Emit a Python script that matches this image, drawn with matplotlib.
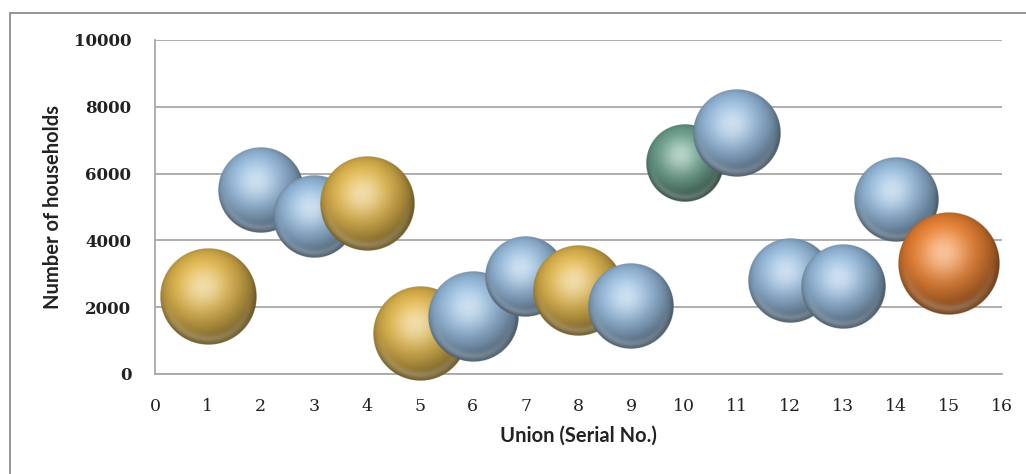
import numpy as np
import matplotlib
matplotlib.use("Agg")
import matplotlib.pyplot as plt
from matplotlib.patches import Rectangle

# Households per union, bubble size and colour group
union_no = [1, 2, 3, 4, 5, 6, 7, 8, 9, 10, 11, 12, 13, 14, 15]
households = [2300, 5500, 4700, 5100, 1200, 1700, 2900, 2500, 2050,
              6300, 7200, 2800, 2600, 5200, 3300]
bubble_size = [89, 71, 65, 85, 85, 78, 62, 78, 71, 58, 74, 68, 68, 68, 100]
group = ['gold', 'blue', 'blue', 'gold', 'gold', 'blue', 'blue', 'gold', 'blue',
         'green', 'blue', 'blue', 'blue', 'blue', 'orange']

base_colors = {
    'gold': (0.86, 0.70, 0.30),
    'blue': (0.58, 0.72, 0.85),
    'green': (0.42, 0.62, 0.54),
    'orange': (0.90, 0.50, 0.20),
}


def sphere_rgba(base, n=240):
    t = np.linspace(-1, 1, n)
    u, v = np.meshgrid(t, -t)
    r = np.sqrt(u**2 + v**2)
    z = np.sqrt(np.clip(1 - r**2, 0, 1))
    light = np.array([-0.2, 0.4, 0.9])
    light /= np.linalg.norm(light)
    diff = np.clip(u * light[0] + v * light[1] + z * light[2], 0, 1)
    half = light + np.array([0, 0, 1.0])
    half /= np.linalg.norm(half)
    spec = np.clip(u * half[0] + v * half[1] + z * half[2], 0, 1) ** 10
    col = np.array(base)[None, None, :] * (0.5 + 0.55 * diff)[..., None]
    col = np.clip(col, 0, 1)
    col += (1 - col) * (0.5 * spec)[..., None]
    # soft reflected rim along the bottom edge
    rim = np.exp(-((r - 0.88) / 0.08) ** 2) * np.clip(-v, 0, 1)
    col += (1 - col) * (0.25 * rim)[..., None]
    alpha = np.clip((1 - r) * n / 2, 0, 1)
    return np.dstack([np.clip(col, 0, 1), alpha])


W, H = 1026, 474
fig = plt.figure(figsize=(W / 100, H / 100), dpi=100)
ax = fig.add_axes([155 / W, 1 - 374 / H, (1002 - 155) / W, (374 - 40) / H])
ax.set_xlim(0, 16)
ax.set_ylim(0, 10000)

# pixel scale of the data axes
px_x = ax.bbox.width / 16
px_y = ax.bbox.height / 10000
max_r = 51
for i, (x, y, s, g) in enumerate(zip(union_no, households, bubble_size, group)):
    r_px = max_r * np.sqrt(s / max(bubble_size))
    rx = r_px / px_x
    ry = r_px / px_y
    ax.imshow(sphere_rgba(base_colors[g]), extent=[x - rx, x + rx, y - ry, y + ry],
              aspect='auto', interpolation='antialiased', zorder=3 + i, clip_on=False)

ax.set_xlim(0, 16)
ax.set_ylim(0, 10000)
ax.set_xticks(range(0, 17))
ax.set_yticks(range(0, 10001, 2000))
ax.grid(axis='y', color='#a8a8a8', linewidth=1.3)
ax.set_axisbelow(True)
for side in ['top', 'right']:
    ax.spines[side].set_visible(False)
for side in ['left', 'bottom']:
    ax.spines[side].set_color('#a8a8a8')
    ax.spines[side].set_linewidth(1.3)
ax.tick_params(length=0)
ax.tick_params(axis='x', pad=17)
ax.tick_params(axis='y', pad=17)
for lab in ax.get_xticklabels():
    lab.set_fontfamily('DejaVu Serif')
    lab.set_fontsize(12.5)
    lab.set_color('#222222')
for lab in ax.get_yticklabels():
    lab.set_fontfamily('DejaVu Serif')
    lab.set_fontsize(12)
    lab.set_fontweight('bold')
    lab.set_color('#222222')

ax.set_xlabel('Union (Serial No.)', fontfamily='Lato', fontweight='bold',
              fontsize=14.5, color='#222222', labelpad=8)
ax.set_ylabel('Number of households', fontfamily='Lato', fontweight='bold',
              fontsize=14.5, color='#222222', labelpad=8)

# chart frame
fig.add_artist(Rectangle((10 / W, -0.05), 1.2, 1 - 13 / H + 0.05,
                         transform=fig.transFigure, fill=False,
                         edgecolor='#8c8c8c', linewidth=1.3))

fig.savefig('out.png', dpi=100)
